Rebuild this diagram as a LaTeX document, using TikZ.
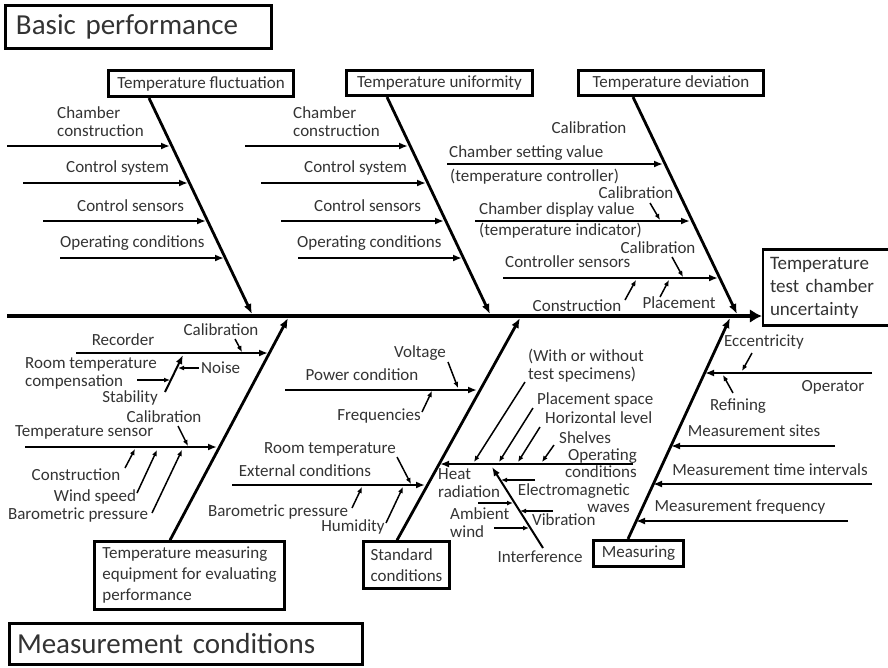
\documentclass[tikz,border=0pt]{standalone}
\usepackage{fontspec}
\setmainfont{Carlito}
\usetikzlibrary{arrows.meta}

\begin{document}
\begin{tikzpicture}[x=1pt, y=-1pt,
	lbl/.style = {inner sep=0pt, text=black!80, font=\fontsize{17}{18}\selectfont},
	cat/.style = {draw, line width=2.6pt, inner sep=0pt, text=black!80, font=\fontsize{17}{21}\selectfont},
	ttl/.style = {draw, line width=3pt, inner sep=0pt, text=black!80, font=\fontsize{29}{32}\selectfont},
	spine/.style = {line width=4.5pt, -{Latex[length=12pt,width=14pt]}},
	bone/.style = {line width=2.8pt, -{Latex[length=10pt,width=8pt]}},
	sub/.style = {line width=2.4pt, -{Latex[length=9pt,width=7pt]}},
	small/.style = {line width=1.5pt, -{Latex[length=6pt,width=5pt]}}
	]
	\useasboundingbox (0,0) rectangle (888,667);

	%Boxes
	\node[ttl, minimum width=266pt, minimum height=43pt, text width=245pt, align=left]	(basic)	at (138.5,27)	{Basic performance};
	\node[ttl, minimum width=353pt, minimum height=41pt, text width=338pt, align=left]	(mcond)	at (186,644)	{Measurement conditions};
	\node[cat, minimum width=185pt, minimum height=26.5pt]	(fluct)	at (201,83.5)	{Temperature fluctuation};
	\node[cat, minimum width=186pt, minimum height=25.5pt]	(unif)	at (439.5,83)	{Temperature uniformity};
	\node[cat, minimum width=185pt, minimum height=25.5pt]	(devi)	at (671,83)	{Temperature deviation};
	\node[cat, minimum width=190pt, minimum height=68pt, align=left]	(equip)	at (189.5,575.5)	{Temperature measuring\\equipment for evaluating\\performance};
	\node[cat, minimum width=86pt, minimum height=47pt, align=left]	(stand)	at (406.5,565)	{Standard\\conditions};
	\node[cat, minimum width=90pt, minimum height=26.5pt]	(measr)	at (638.5,553.5)	{Measuring};
	\node[cat, minimum width=131.7pt, minimum height=76.4pt, text width=118pt, align=left, font=\fontsize{19}{23}\selectfont]	(effect)	at (829,287.5)	{Temperature\\test chamber\\uncertainty};

	%Labels, fluctuation
	\node[lbl, anchor=west, align=left]	(fcc)	at (57,122)	{Chamber\\construction};
	\node[lbl, anchor=west]	(fcs)	at (66,168)	{Control system};
	\node[lbl, anchor=west]	(fsn)	at (77,206)	{Control sensors};
	\node[lbl, anchor=west]	(foc)	at (60,243)	{Operating conditions};

	%Labels, uniformity
	\node[lbl, anchor=west, align=left]	(ucc)	at (293,122)	{Chamber\\construction};
	\node[lbl, anchor=west]	(ucs)	at (304,168)	{Control system};
	\node[lbl, anchor=west]	(usn)	at (314,206)	{Control sensors};
	\node[lbl, anchor=west]	(uoc)	at (297,243)	{Operating conditions};

	%Labels, deviation
	\node[lbl]	(dcal1)	at (589,128)	{Calibration};
	\node[lbl, anchor=west]	(dsv)	at (449,153)	{Chamber setting value};
	\node[lbl, anchor=west]	(dsc)	at (450,177)	{(temperature controller)};
	\node[lbl]	(dcal2)	at (636,193)	{Calibration};
	\node[lbl, anchor=west]	(ddv)	at (479,210)	{Chamber display value};
	\node[lbl, anchor=west]	(ddi)	at (479,231)	{(temperature indicator)};
	\node[lbl]	(dcal3)	at (658,248)	{Calibration};
	\node[lbl, anchor=west]	(dcs)	at (505,262)	{Controller sensors};
	\node[lbl]	(dcon)	at (577,306)	{Construction};
	\node[lbl]	(dpl)	at (679,303)	{Placement};

	%Labels, equipment
	\node[lbl]	(erec)	at (123,340)	{Recorder};
	\node[lbl]	(ecal1)	at (221,330)	{Calibration};
	\node[lbl, anchor=west]	(enoise)	at (201,368)	{Noise};
	\node[lbl, anchor=west, align=left]	(eroom)	at (25,373)	{Room temperature\\compensation};
	\node[lbl]	(estab)	at (130,398)	{Stability};
	\node[lbl, anchor=west]	(ets)	at (15,432)	{Temperature sensor};
	\node[lbl]	(ecal2)	at (164,417)	{Calibration};
	\node[lbl]	(econ)	at (76,475)	{Construction};
	\node[lbl]	(ewind)	at (95,497)	{Wind speed};
	\node[lbl]	(ebar)	at (78,515)	{Barometric pressure};

	%Labels, standard conditions
	\node[lbl]	(spc)	at (362,375)	{Power condition};
	\node[lbl]	(svol)	at (420,353)	{Voltage};
	\node[lbl]	(sfreq)	at (379,416)	{Frequencies};
	\node[lbl]	(sext)	at (305,471)	{External conditions};
	\node[lbl]	(sroom)	at (330,449)	{Room temperature};
	\node[lbl]	(sbar)	at (278,512)	{Barometric pressure};
	\node[lbl]	(shum)	at (353,527)	{Humidity};
	\node[lbl, anchor=east, align=right, font=\fontsize{17}{17}\selectfont]	(sop)	at (637,463)	{Operating\\conditions};
	\node[lbl, anchor=west, align=left]	(swith)	at (528,365.5)	{(With or without\\test specimens)};
	\node[lbl, anchor=west]	(splace)	at (537,400)	{Placement space};
	\node[lbl, anchor=west]	(shor)	at (545,418)	{Horizontal level};
	\node[lbl, anchor=west]	(sshel)	at (559,438)	{Shelves};
	\node[lbl]	(sint)	at (540,557)	{Interference};
	\node[lbl, anchor=east, align=right, font=\fontsize{17}{17}\selectfont]	(sem)	at (630,498)	{Electromagnetic\\waves};
	\node[lbl, anchor=west]	(svib)	at (532,520)	{Vibration};
	\node[lbl, anchor=west, align=left]	(sheat)	at (438,483.5)	{Heat\\radiation};
	\node[lbl, anchor=west, align=left]	(samb)	at (450,522.5)	{Ambient\\wind};

	%Labels, measuring
	\node[lbl]	(mop)	at (833,387)	{Operator};
	\node[lbl]	(mecc)	at (764,342)	{Eccentricity};
	\node[lbl]	(mref)	at (738,406)	{Refining};
	\node[lbl]	(msite)	at (754,431)	{Measurement sites};
	\node[lbl]	(mtime)	at (770,470)	{Measurement time intervals};
	\node[lbl]	(mfreq)	at (740,507)	{Measurement frequency};

	%Points
	\coordinate (tail) at (7,316);
	\coordinate (fl) at (252,314);	\coordinate (ul) at (490,314);	\coordinate (dl) at (737,314);
	\coordinate (el) at (288,318);	\coordinate (sl) at (520,318);	\coordinate (ml) at (730,318);

	\coordinate (f1a) at (7,146);	\coordinate (f1b) at (170,146);
	\coordinate (f2a) at (23,183);	\coordinate (f2b) at (188,183);
	\coordinate (f3a) at (43,221);	\coordinate (f3b) at (206,221);
	\coordinate (f4a) at (60,258);	\coordinate (f4b) at (224,258);

	\coordinate (u1a) at (245,146);	\coordinate (u1b) at (408,146);
	\coordinate (u2a) at (261,183);	\coordinate (u2b) at (426,183);
	\coordinate (u3a) at (281,221);	\coordinate (u3b) at (444,221);
	\coordinate (u4a) at (298,258);	\coordinate (u4b) at (462,258);

	\coordinate (d1a) at (447,164);	\coordinate (d1b) at (663,164);
	\coordinate (d2a) at (475,221);	\coordinate (d2b) at (690,221);
	\coordinate (d3a) at (503,278);	\coordinate (d3b) at (718,278);
	\coordinate (d4a) at (650,203);	\coordinate (d4b) at (660,220);
	\coordinate (d5a) at (672,257);	\coordinate (d5b) at (683,277);
	\coordinate (d6a) at (625,300);	\coordinate (d6b) at (636,280);
	\coordinate (d7a) at (660,297);	\coordinate (d7b) at (669,280);

	\coordinate (e1a) at (76,353);	\coordinate (e1b) at (268,353);
	\coordinate (e2a) at (25,447);	\coordinate (e2b) at (217,447);
	\coordinate (e3a) at (165,392);	\coordinate (e3b) at (183,355);
	\coordinate (e4a) at (235,339);	\coordinate (e4b) at (242,352);
	\coordinate (e5a) at (199,368);	\coordinate (e5b) at (178,368);
	\coordinate (e6a) at (137,380);	\coordinate (e6b) at (170,380);
	\coordinate (e7a) at (178,426);	\coordinate (e7b) at (188,446);
	\coordinate (e8a) at (125,468);	\coordinate (e8b) at (135,449);
	\coordinate (e9a) at (137,493);	\coordinate (e9b) at (157,450);
	\coordinate (e10a) at (152,513);	\coordinate (e10b) at (182,450);

	\coordinate (s1a) at (285,390);	\coordinate (s1b) at (477,390);
	\coordinate (s2a) at (232,485);	\coordinate (s2b) at (425,485);
	\coordinate (s3a) at (633,464);	\coordinate (s3b) at (440,464);
	\coordinate (s4a) at (448,362);	\coordinate (s4b) at (458,388);
	\coordinate (s5a) at (422,412);	\coordinate (s5b) at (432,391);
	\coordinate (s6a) at (397,457);	\coordinate (s6b) at (411,484);
	\coordinate (s7a) at (352,508);	\coordinate (s7b) at (362,487);
	\coordinate (s8a) at (386,523);	\coordinate (s8b) at (403,487);
	\coordinate (s9a) at (525,382);	\coordinate (s9b) at (474,462);
	\coordinate (s10a) at (533,408);	\coordinate (s10b) at (499,462);
	\coordinate (s11a) at (540,427);	\coordinate (s11b) at (518,462);
	\coordinate (s12a) at (554,445);	\coordinate (s12b) at (542,462);
	\coordinate (s13a) at (543,548);	\coordinate (s13b) at (492,467);
	\coordinate (s14a) at (535,480);	\coordinate (s14b) at (501,480);
	\coordinate (s15a) at (553,511);	\coordinate (s15b) at (520,511);
	\coordinate (s16a) at (478,503);	\coordinate (s16b) at (513,503);
	\coordinate (s17a) at (494,528);	\coordinate (s17b) at (529,528);

	\coordinate (m1a) at (872,373);	\coordinate (m1b) at (705,373);
	\coordinate (m2a) at (835,446);	\coordinate (m2b) at (671,446);
	\coordinate (m3a) at (872,484);	\coordinate (m3b) at (653,484);
	\coordinate (m4a) at (848,521);	\coordinate (m4b) at (636,521);
	\coordinate (m5a) at (752,353);	\coordinate (m5b) at (742,371);
	\coordinate (m6a) at (733,393);	\coordinate (m6b) at (723,375);

	%Spine and bones
	\draw[spine]	(tail)	--	(tail -| effect.west);
	\draw[bone]	([xshift=-52pt]fluct.south)	--	(fl);
	\draw[bone]	([xshift=-52.5pt]unif.south)	--	(ul);
	\draw[bone]	([xshift=-38pt]devi.south)	--	(dl);
	\draw[bone]	([xshift=-19.5pt]equip.north)	--	(el);
	\draw[bone]	([xshift=-9.5pt]stand.north)	--	(sl);
	\draw[bone]	([xshift=-10.5pt]measr.north)	--	(ml);

	%Lines
	\draw[sub]	(f1a)	--	(f1b);
	\draw[sub]	(f2a)	--	(f2b);
	\draw[sub]	(f3a)	--	(f3b);
	\draw[sub]	(f4a)	--	(f4b);

	\draw[sub]	(u1a)	--	(u1b);
	\draw[sub]	(u2a)	--	(u2b);
	\draw[sub]	(u3a)	--	(u3b);
	\draw[sub]	(u4a)	--	(u4b);

	\draw[sub]	(d1a)	--	(d1b);
	\draw[sub]	(d2a)	--	(d2b);
	\draw[sub]	(d3a)	--	(d3b);
	\draw[small]	(d4a)	--	(d4b);
	\draw[small]	(d5a)	--	(d5b);
	\draw[small]	(d6a)	--	(d6b);
	\draw[small]	(d7a)	--	(d7b);

	\draw[sub]	(e1a)	--	(e1b);
	\draw[sub]	(e2a)	--	(e2b);
	\draw[sub, line width=2pt]	(e3a)	--	(e3b);
	\draw[small]	(e4a)	--	(e4b);
	\draw[small]	(e5a)	--	(e5b);
	\draw[small]	(e6a)	--	(e6b);
	\draw[small]	(e7a)	--	(e7b);
	\draw[small]	(e8a)	--	(e8b);
	\draw[small]	(e9a)	--	(e9b);
	\draw[small]	(e10a)	--	(e10b);

	\draw[sub]	(s1a)	--	(s1b);
	\draw[sub]	(s2a)	--	(s2b);
	\draw[sub]	(s3a)	--	(s3b);
	\draw[small]	(s4a)	--	(s4b);
	\draw[small]	(s5a)	--	(s5b);
	\draw[small]	(s6a)	--	(s6b);
	\draw[small]	(s7a)	--	(s7b);
	\draw[small]	(s8a)	--	(s8b);
	\draw[small]	(s9a)	--	(s9b);
	\draw[small]	(s10a)	--	(s10b);
	\draw[small]	(s11a)	--	(s11b);
	\draw[small]	(s12a)	--	(s12b);
	\draw[sub, line width=2pt]	(s13a)	--	(s13b);
	\draw[small]	(s14a)	--	(s14b);
	\draw[small]	(s15a)	--	(s15b);
	\draw[small]	(s16a)	--	(s16b);
	\draw[small]	(s17a)	--	(s17b);

	\draw[sub]	(m1a)	--	(m1b);
	\draw[sub]	(m2a)	--	(m2b);
	\draw[sub]	(m3a)	--	(m3b);
	\draw[sub]	(m4a)	--	(m4b);
	\draw[small]	(m5a)	--	(m5b);
	\draw[small]	(m6a)	--	(m6b);
\end{tikzpicture}
\end{document}
